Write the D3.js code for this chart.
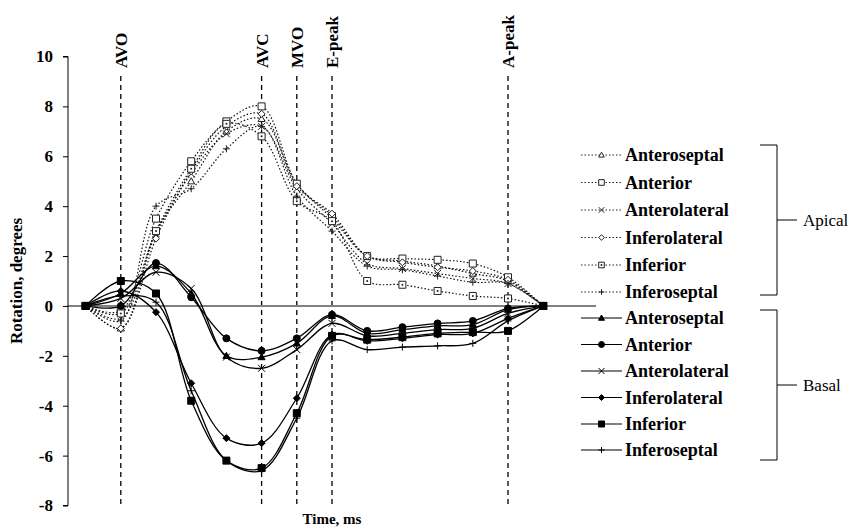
<!DOCTYPE html>
<html>
<head>
<meta charset="utf-8">
<script src="https://cdn.jsdelivr.net/npm/d3@7"></script>
<style>
  body { margin: 0; background: #fff; }
  svg { font-family: "Liberation Serif", "Times New Roman", serif; }
</style>
</head>
<body>
<svg width="862" height="530"></svg>
<script>
// time points (category slots), one empty slot follows the last one
let timePoints = [0, 1, 2, 3, 4, 5, 6, 7, 8, 9, 10, 11, 12, 13];
let eventNames = ["AVO", "AVC", "MVO", "E-peak", "A-peak"];
let eventAt = [1, 5, 6, 7, 12];
let yTicks = [10, 8, 6, 4, 2, 0, -2, -4, -6, -8];

let segNames = ["Anteroseptal", "Anterior", "Anterolateral", "Inferolateral", "Inferior", "Inferoseptal"];

// apical rotation, degrees
let apAnteroseptal = [0, -0.9, 3.0, 5.0, 7.0, 7.5, 4.9, 3.5, 2.0, 1.8, 1.6, 1.3, 1.0, 0];
let apAnterior = [0, -0.2, 3.5, 5.8, 7.4, 8.0, 4.9, 3.6, 2.0, 1.9, 1.85, 1.7, 1.15, 0];
let apAnterolateral = [0, -0.5, 2.9, 5.3, 6.9, 7.2, 4.7, 3.3, 1.7, 1.5, 1.3, 1.1, 0.9, 0];
let apInferolateral = [0, -0.9, 2.7, 5.4, 7.2, 7.7, 4.8, 3.7, 2.0, 1.75, 1.55, 1.4, 1.05, 0];
let apInferior = [0, -0.3, 3.0, 5.5, 7.3, 6.8, 4.2, 3.4, 1.0, 0.85, 0.6, 0.4, 0.3, 0];
let apInferoseptal = [0, -0.6, 4.0, 4.7, 6.3, 7.2, 4.4, 3.0, 1.6, 1.45, 1.2, 0.95, 0.9, 0];

// basal rotation, degrees
let bsAnteroseptal = [0, 0.5, 1.6, 0.5, -2.0, -2.05, -1.5, -0.4, -1.1, -0.95, -0.8, -0.75, -0.15, 0];
let bsAnterior = [0, 0.0, 1.72, 0.35, -1.3, -1.8, -1.3, -0.35, -1.0, -0.85, -0.7, -0.6, -0.1, 0];
let bsAnterolateral = [0, 0.3, 1.35, 0.7, -2.05, -2.5, -1.75, -0.7, -1.2, -1.1, -0.95, -0.9, -0.3, 0];
let bsInferolateral = [0, 0.6, -0.25, -3.1, -5.3, -5.5, -3.7, -1.15, -1.4, -1.3, -1.15, -1.1, -0.5, 0];
let bsInferior = [0, 1.0, 0.5, -3.8, -6.2, -6.5, -4.3, -1.2, -1.35, -1.25, -1.1, -1.05, -1.0, 0];
let bsInferoseptal = [0, 0.4, 0.15, -3.4, -6.2, -6.6, -4.5, -1.4, -1.75, -1.65, -1.6, -1.5, -0.6, 0];

let apicalMarkers = ["triangle", "square", "x", "diamond", "dotsquare", "plus"];
let basalMarkers = ["triangle", "circle", "x", "diamond", "square", "plus"];

let apical = [apAnteroseptal, apAnterior, apAnterolateral, apInferolateral, apInferior, apInferoseptal];
let basal = [bsAnteroseptal, bsAnterior, bsAnterolateral, bsInferolateral, bsInferior, bsInferoseptal];

let svg = d3.select("svg");
let plotLeft = 68, plotRight = 596, plotTop = 56.5, plotBottom = 505.5;

let xScale = d3.scaleBand()
  .domain(d3.range(timePoints.length + 1))
  .range([plotLeft, plotRight]);
let xPos = (i) => xScale(i) + xScale.bandwidth() / 2;
let yScale = d3.scaleLinear().domain([-8, 10]).range([plotBottom, plotTop]);

let markerPath = (type, s) => {
  if (type == "triangle") return `M0,${-s}L${s},${s * 0.75}L${-s},${s * 0.75}Z`;
  if (type == "square" || type == "dotsquare") return `M${-s},${-s}h${2 * s}v${2 * s}h${-2 * s}Z`;
  if (type == "x") return `M${-s},${-s}L${s},${s}M${s},${-s}L${-s},${s}`;
  if (type == "diamond") return `M0,${-s}L${s},0L0,${s}L${-s},0Z`;
  if (type == "plus") return `M${-s},0H${s}M0,${-s}V${s}`;
  if (type == "circle") return d3.arc()({ innerRadius: 0, outerRadius: s, startAngle: 0, endAngle: 2 * Math.PI });
};

let drawMarker = (g, type, x, y, s, filled) => {
  let open = !filled || type == "x" || type == "plus";
  g.append("path")
    .attr("d", markerPath(type, s))
    .attr("transform", `translate(${x},${y})`)
    .attr("fill", open ? "#fff" : "#000")
    .attr("fill-opacity", type == "x" || type == "plus" ? 0 : 1)
    .attr("stroke", filled ? "#000" : "#222")
    .attr("stroke-width", 1);
  if (type == "dotsquare") {
    g.append("circle").attr("cx", x).attr("cy", y).attr("r", 1).attr("fill", "#222");
  }
};

// event lines
eventNames.forEach((name, k) => {
  let x = xPos(eventAt[k]);
  svg.append("line")
    .attr("x1", x).attr("x2", x)
    .attr("y1", 76).attr("y2", plotBottom - 1)
    .attr("stroke", "#000")
    .attr("stroke-width", 1.3)
    .attr("stroke-dasharray", "5,4");
  svg.append("text")
    .attr("transform", `translate(${x + 6},68) rotate(-90)`)
    .attr("font-size", 17)
    .attr("font-weight", "bold")
    .text(name);
});

// zero line
svg.append("line")
  .attr("x1", plotLeft).attr("x2", plotRight)
  .attr("y1", yScale(0)).attr("y2", yScale(0))
  .attr("stroke", "#808080")
  .attr("stroke-width", 2);

// y axis
let yAxis = d3.axisLeft(yScale).tickValues(yTicks).tickSize(5).tickPadding(10).tickFormat((d) => String(d));
let yG = svg.append("g").attr("transform", `translate(${plotLeft},0)`).call(yAxis);
yG.select(".domain").attr("d", `M-5,${plotTop}H0V${plotBottom}H-5`).attr("stroke", "#000");
yG.selectAll("text")
  .attr("font-family", "Liberation Serif, serif")
  .attr("font-size", 17)
  .attr("font-weight", "bold")
  .attr("fill", "#000");

let line = d3.line()
  .x((d, i) => xPos(timePoints[i]))
  .y((d) => yScale(d))
  .curve(d3.curveCatmullRom.alpha(0.5));

// apical series (dotted)
apical.forEach((vals, k) => {
  svg.append("path")
    .attr("d", line(vals))
    .attr("fill", "none")
    .attr("stroke", "#111")
    .attr("stroke-width", 1.2)
    .attr("stroke-dasharray", "1.5,2");
});
// basal series (solid)
basal.forEach((vals, k) => {
  svg.append("path")
    .attr("d", line(vals))
    .attr("fill", "none")
    .attr("stroke", "#000")
    .attr("stroke-width", 1.3);
});

let markG = svg.append("g");
apical.forEach((vals, k) => {
  vals.forEach((v, i) => drawMarker(markG, apicalMarkers[k], xPos(timePoints[i]), yScale(v), 3.5, false));
});
basal.forEach((vals, k) => {
  vals.forEach((v, i) => drawMarker(markG, basalMarkers[k], xPos(timePoints[i]), yScale(v), 3.5, true));
});

// legend
let legend = svg.append("g");
let apicalRowY = [155, 182.5, 210, 237.5, 265, 292];
let basalRowY = [318, 344.5, 371, 397.5, 424, 450];
let drawLegendRows = (rows, markers, filled) => {
  rows.forEach((y, k) => {
    legend.append("line")
      .attr("x1", 581).attr("x2", 622)
      .attr("y1", y).attr("y2", y)
      .attr("stroke", filled ? "#000" : "#222")
      .attr("stroke-width", filled ? 1.2 : 1)
      .attr("stroke-dasharray", filled ? null : "1.5,2");
    drawMarker(legend, markers[k], 601.5, y, filled ? 3 : 2.8, filled);
    legend.append("text")
      .attr("x", 625).attr("y", y + 6)
      .attr("font-size", 18)
      .attr("font-weight", "bold")
      .text(segNames[k]);
  });
};
drawLegendRows(apicalRowY, apicalMarkers, false);
drawLegendRows(basalRowY, basalMarkers, true);

let bracket = (y0, y1, label) => {
  let ym = (y0 + y1) / 2;
  legend.append("path")
    .attr("d", `M760,${y0}H777V${y1}H760M777,${ym}H797`)
    .attr("fill", "none")
    .attr("stroke", "#000")
    .attr("stroke-width", 1);
  legend.append("text")
    .attr("x", 803).attr("y", ym + 6)
    .attr("font-size", 17)
    .text(label);
};
bracket(145, 295, "Apical");
bracket(310, 460, "Basal");

// axis titles
svg.append("text")
  .attr("transform", `translate(22,${(plotTop + plotBottom) / 2}) rotate(-90)`)
  .attr("text-anchor", "middle")
  .attr("font-size", 17)
  .attr("font-weight", "bold")
  .text("Rotation, degrees");
svg.append("text")
  .attr("x", (plotLeft + plotRight) / 2).attr("y", 524)
  .attr("text-anchor", "middle")
  .attr("font-size", 15)
  .attr("font-weight", "bold")
  .text("Time, ms");
</script>
</body>
</html>
